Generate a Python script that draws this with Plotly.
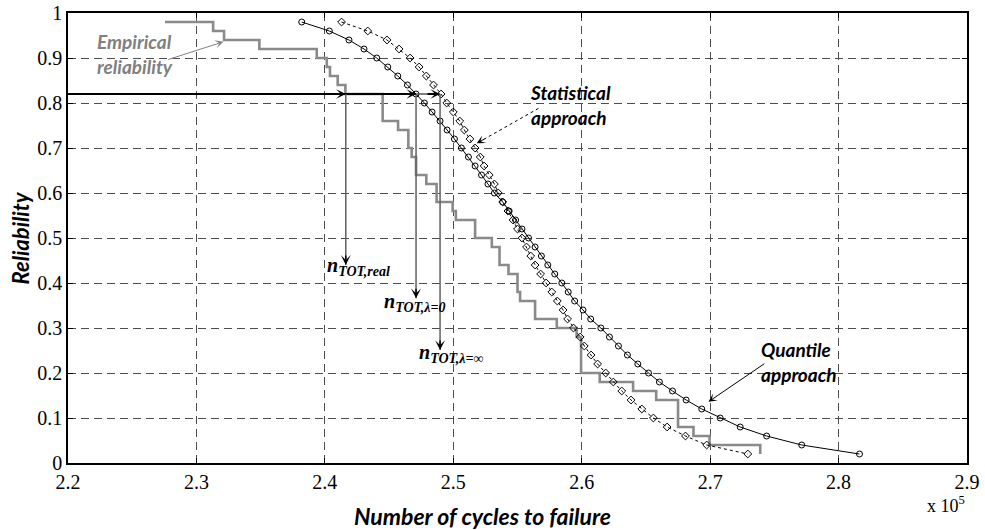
import plotly.graph_objects as go

# ---------------- data (cycles in units of 1e5) ----------------
emp_cycles = [2.2755, 2.313, 2.3215, 2.349, 2.3937, 2.4015, 2.404, 2.410, 2.416, 2.445,
              2.457, 2.465, 2.4676, 2.471, 2.479, 2.487, 2.4995, 2.502, 2.517, 2.530,
              2.536, 2.543, 2.550, 2.552, 2.5637, 2.5806, 2.596, 2.5995, 2.614, 2.640,
              2.658, 2.675, 2.687, 2.6995, 2.739]
emp_rel = [0.98, 0.96, 0.94, 0.92, 0.90, 0.88, 0.86, 0.84, 0.82, 0.76,
           0.74, 0.70, 0.68, 0.64, 0.62, 0.58, 0.56, 0.54, 0.50, 0.48,
           0.44, 0.42, 0.38, 0.36, 0.32, 0.30, 0.28, 0.20, 0.18, 0.16,
           0.14, 0.08, 0.06, 0.04, 0.02]

model_rel = [0.98, 0.96, 0.94, 0.92, 0.90, 0.88, 0.86, 0.84, 0.82, 0.80,
             0.78, 0.76, 0.74, 0.72, 0.70, 0.68, 0.66, 0.64, 0.62, 0.60,
             0.58, 0.56, 0.54, 0.52, 0.50, 0.48, 0.46, 0.44, 0.42, 0.40,
             0.38, 0.36, 0.34, 0.32, 0.30, 0.28, 0.26, 0.24, 0.22, 0.20,
             0.18, 0.16, 0.14, 0.12, 0.10, 0.08, 0.06, 0.04, 0.02]

quantile_cycles = [2.382, 2.4035, 2.4188, 2.4305, 2.4404, 2.449, 2.4568, 2.4643, 2.471, 2.4775,
                   2.4835, 2.4897, 2.4952, 2.5009, 2.5063, 2.5118, 2.517, 2.522, 2.527, 2.532,
                   2.5385, 2.5435, 2.5485, 2.5535, 2.5586, 2.5637, 2.5686, 2.5736, 2.579, 2.5845,
                   2.5895, 2.5945, 2.601, 2.607, 2.6149, 2.6216, 2.6286, 2.6356, 2.6437, 2.652,
                   2.6605, 2.6707, 2.6813, 2.6935, 2.7078, 2.7234, 2.744, 2.7713, 2.8163]

statistical_cycles = [2.413, 2.4334, 2.4484, 2.4578, 2.4664, 2.4734, 2.479, 2.4846, 2.4905, 2.4949,
                      2.500, 2.505, 2.5086, 2.513, 2.517, 2.521, 2.524, 2.528, 2.532, 2.535,
                      2.5385, 2.5425, 2.5465, 2.550, 2.5535, 2.557, 2.5603, 2.5637, 2.568, 2.5723,
                      2.5767, 2.581, 2.5855, 2.589, 2.5936, 2.5988, 2.602, 2.6073, 2.6124, 2.6187,
                      2.6246, 2.6312, 2.6384, 2.6468, 2.6558, 2.6665, 2.6808, 2.6973, 2.7293]

target_rel = 0.82
n_tot_real = 2.4163
n_tot_lambda0 = 2.471
n_tot_lambdainf = 2.4897
n_tot_labels = ["n<sub>TOT,real</sub>", "n<sub>TOT,λ=0</sub>", "n<sub>TOT,λ=∞</sub>"]
arrow_tip_rel = [0.44, 0.366, 0.251]

x_ticks = [2.2, 2.3, 2.4, 2.5, 2.6, 2.7, 2.8, 2.9]
y_ticks = [0, 0.1, 0.2, 0.3, 0.4, 0.5, 0.6, 0.7, 0.8, 0.9, 1]

SERIF = "Liberation Serif"

# ---------------- figure ----------------
fig = go.Figure()

fig.add_trace(go.Scatter(x=emp_cycles, y=emp_rel, mode="lines", line_shape="hv",
                         line=dict(color="#8a8a8a", width=2.6), showlegend=False, hoverinfo="skip"))
fig.add_trace(go.Scatter(x=statistical_cycles, y=model_rel, mode="lines+markers",
                         line=dict(color="black", width=1, dash="dot"),
                         marker=dict(symbol="diamond-open", size=6, color="black", line=dict(width=1)),
                         showlegend=False))
fig.add_trace(go.Scatter(x=quantile_cycles, y=model_rel, mode="lines+markers",
                         line=dict(color="black", width=1),
                         marker=dict(symbol="circle-open", size=6, color="black", line=dict(width=1)),
                         showlegend=False))

# horizontal reliability target line
fig.add_trace(go.Scatter(x=[x_ticks[0], n_tot_lambda0], y=[target_rel, target_rel], mode="lines",
                         line=dict(color="black", width=2), showlegend=False, hoverinfo="skip"))
fig.add_trace(go.Scatter(x=[n_tot_lambda0, n_tot_lambdainf], y=[target_rel, target_rel], mode="lines",
                         line=dict(color="#555555", width=1.5), showlegend=False, hoverinfo="skip"))

annotations = []
# horizontal arrowheads
for xt in [n_tot_real, n_tot_lambda0, n_tot_lambdainf]:
    annotations.append(dict(x=xt, y=target_rel, ax=-14, ay=0, xref="x", yref="y",
                            text="", showarrow=True, arrowhead=3, arrowsize=0.8,
                            arrowwidth=2, arrowcolor="black", standoff=0))

# vertical arrows
for xv, yt in zip([n_tot_real, n_tot_lambda0, n_tot_lambdainf], arrow_tip_rel):
    fig.add_trace(go.Scatter(x=[xv, xv], y=[target_rel, yt], mode="lines",
                             line=dict(color="#606060", width=1.5), showlegend=False, hoverinfo="skip"))
    annotations.append(dict(x=xv, y=yt, ax=0, ay=-11, xref="x", yref="y",
                            text="", showarrow=True, arrowhead=3, arrowsize=1.1,
                            arrowwidth=1.5, arrowcolor="black", standoff=0))

label_pos = [(2.4002, 0.437), (2.4443, 0.357), (2.4716, 0.244)]
for (lx, ly), lab in zip(label_pos, n_tot_labels):
    annotations.append(dict(x=lx, y=ly, xref="x", yref="y", xanchor="left", yanchor="middle",
                            text="<b><i>" + lab + "</i></b>", showarrow=False,
                            font=dict(family=SERIF, size=20, color="black")))

label_font = dict(family="Lato", size=19, color="black")
annotations.append(dict(x=2.591, y=0.796, xref="x", yref="y", showarrow=False,
                        text="<b><i>Statistical<br>approach</i></b>", font=label_font, align="left"))
annotations.append(dict(x=2.7693, y=0.224, xref="x", yref="y", showarrow=False,
                        text="<b><i>Quantile<br>approach</i></b>", font=label_font, align="left"))
annotations.append(dict(x=2.2522, y=0.909, xref="x", yref="y", showarrow=False,
                        text="<b><i>Empirical<br>reliability</i></b>",
                        font=dict(family="Lato", size=19, color="#808080"), align="left"))

# pointer arrows
annotations.append(dict(x=2.6987, y=0.136, ax=2.7434, ay=0.223, xref="x", yref="y",
                        axref="x", ayref="y", text="", showarrow=True, arrowhead=3,
                        arrowsize=1.4, arrowwidth=1, arrowcolor="black", standoff=0))
annotations.append(dict(x=2.321, y=0.936, ax=2.2769, ay=0.8956, xref="x", yref="y",
                        axref="x", ayref="y", text="", showarrow=True, arrowhead=3,
                        arrowsize=1.4, arrowwidth=1, arrowcolor="#808080", standoff=0))
fig.add_shape(type="line", x0=2.5663, y0=0.788, x1=2.5183, y1=0.7104, xref="x", yref="y",
              line=dict(color="black", width=1, dash="dot"))
annotations.append(dict(x=2.5183, y=0.7104, ax=9, ay=-5, xref="x", yref="y",
                        text="", showarrow=True, arrowhead=3, arrowsize=1.4,
                        arrowwidth=1, arrowcolor="black", standoff=0))

# axis titles and multiplier
annotations.append(dict(x=0.4616, y=-0.1178, xref="paper", yref="paper", xanchor="center",
                        yanchor="middle", showarrow=False,
                        text="<b><i>Number of cycles to failure</i></b>",
                        font=dict(family="Lato", size=23, color="black")))
annotations.append(dict(x=-0.0523, y=0.501, xref="paper", yref="paper", textangle=-90,
                        xanchor="center", yanchor="middle",
                        showarrow=False, text="<b><i>Reliability</i></b>",
                        font=dict(family="Lato", size=22, color="black")))
annotations.append(dict(x=1.0, y=-0.062, xref="paper", yref="paper", xanchor="right", yanchor="top",
                        showarrow=False, text="x 10<sup>5</sup>",
                        font=dict(family=SERIF, size=18, color="black")))

axis_common = dict(showgrid=True, gridcolor="#4d4d4d", gridwidth=1, griddash="8px,5px",
                   showline=True, linecolor="black", linewidth=1.5, mirror="ticks",
                   ticks="inside", ticklen=5, tickcolor="black", zeroline=False,
                   automargin=False)

fig.update_layout(
    width=985, height=530,
    margin=dict(l=68, r=18, t=13, b=67, autoexpand=False),
    font=dict(family=SERIF, size=20, color="black"),
    plot_bgcolor="white", paper_bgcolor="white",
    xaxis=dict(range=[2.2, 2.9], tickvals=x_ticks, ticktext=[f"{v:.1f}" for v in x_ticks], **axis_common),
    yaxis=dict(range=[0, 1], tickvals=y_ticks, ticktext=[("%g" % v) for v in y_ticks], **axis_common),
    annotations=annotations,
    showlegend=False,
)

fig.write_html("out.html", config={"displayModeBar": False},
               post_script="document.body.style.margin='0px';document.body.style.overflow='hidden';")
